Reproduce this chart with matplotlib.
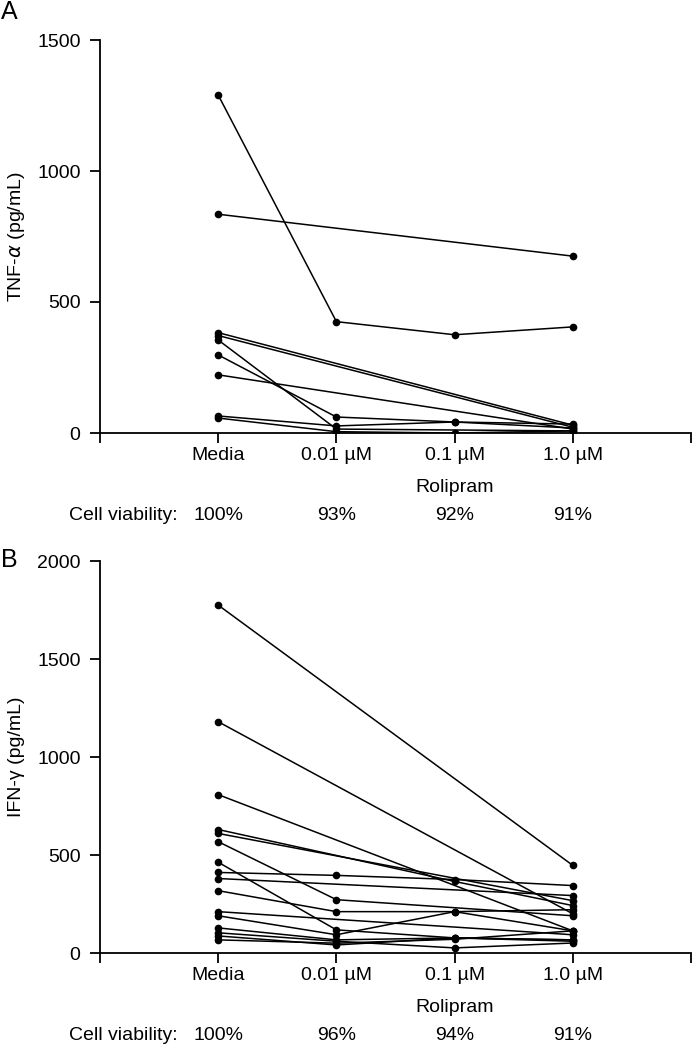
import numpy as np
import matplotlib
matplotlib.use("Agg")
import matplotlib.pyplot as plt

plt.rcParams['font.family'] = ['Liberation Sans', 'DejaVu Sans']

nan = np.nan
conc_labels = ['Media', '0.01 \u00b5M', '0.1 \u00b5M', '1.0 \u00b5M']

# Panel A - TNF-alpha (pg/mL), one entry per donor
tnf_media = [1290, 835, 383, 372, 355, 298, 222, 65, 57]
tnf_001 = [425, nan, nan, nan, 15, 61, nan, 27, 5]
tnf_01 = [375, nan, nan, nan, nan, 42, nan, 42, 0]
tnf_10 = [405, 675, 30, 22, 8, 19, 15, 34, 8]
tnf_viability = ['100%', '93%', '92%', '91%']

# Panel B - IFN-gamma (pg/mL)
ifn_media = [1775, 1180, 808, 630, 610, 568, 463, 411, 380, 318, 211, 190, 128, 103, 87, 67]
ifn_001 = [nan, nan, nan, nan, nan, 272, 118, 396, nan, 211, nan, 93, 67, 60, 41, 50]
ifn_01 = [nan, nan, nan, 365, nan, nan, 77, 375, nan, 211, nan, 211, 77, 26, 77, 70]
ifn_10 = [447, 200, 113, 242, 267, 190, 67, 344, 293, 221, 93, 113, 67, 51, 60, 113]
ifn_viability = ['100%', '96%', '94%', '91%']

W, H = 692, 1050
fig = plt.figure(figsize=(W / 100, H / 100), dpi=100)
FS = 14


def panel(rect, cols, ymax, ystep, ylabel, viability, letter, letter_y):
    ax = fig.add_axes(rect)
    data = np.array(cols, dtype=float).T
    x = np.arange(1, 5)
    for row in data:
        m = ~np.isnan(row)
        ax.plot(x[m], row[m], color='black', lw=1.1, marker='o', ms=4.5)
    ax.set_xlim(0, 5)
    ax.set_ylim(0, ymax)
    ax.set_yticks(np.arange(0, ymax + 1, ystep))
    ax.set_xticks(range(6))
    ax.set_xticklabels([''] + conc_labels + [''])
    for s in ['top', 'right']:
        ax.spines[s].set_visible(False)
    for s in ['left', 'bottom']:
        ax.spines[s].set_linewidth(1.3)
    ax.tick_params(axis='both', direction='out', length=7, width=1.3, labelsize=FS)
    ax.tick_params(axis='x', pad=3)
    ax.tick_params(axis='y', pad=7)
    # y label placed in figure pixels so it stays inside the canvas
    y0 = rect[1] + rect[3] / 2
    fig.text(17 / W, y0, ylabel, rotation=90, ha='center', va='center', fontsize=FS)
    ax.annotate('Rolipram', xy=(3, 0), xycoords=('data', 'axes fraction'),
                xytext=(0, -54), textcoords='offset pixels',
                ha='center', va='center', fontsize=FS)
    ax.annotate('Cell viability:', xy=(0.66, 0), xycoords=('data', 'axes fraction'),
                xytext=(0, -82), textcoords='offset pixels',
                ha='right', va='center', fontsize=FS)
    for i, v in enumerate(viability):
        ax.annotate(v, xy=(i + 1, 0), xycoords=('data', 'axes fraction'),
                    xytext=(0, -82), textcoords='offset pixels',
                    ha='center', va='center', fontsize=FS)
    fig.text(0.002, letter_y, letter, fontsize=18, va='center', ha='left')
    return ax


left = 100 / W
width = 591 / W
panel([left, 1 - 433 / H, width, 393 / H],
      [tnf_media, tnf_001, tnf_01, tnf_10], 1500, 500,
      'TNF-$\\alpha$ (pg/mL)', tnf_viability, 'A', 1 - 12 / H)
panel([left, 1 - 953 / H, width, 392 / H],
      [ifn_media, ifn_001, ifn_01, ifn_10], 2000, 500,
      'IFN-\u03b3 (pg/mL)', ifn_viability, 'B', 1 - 560 / H)

fig.savefig('out.png', dpi=100)
